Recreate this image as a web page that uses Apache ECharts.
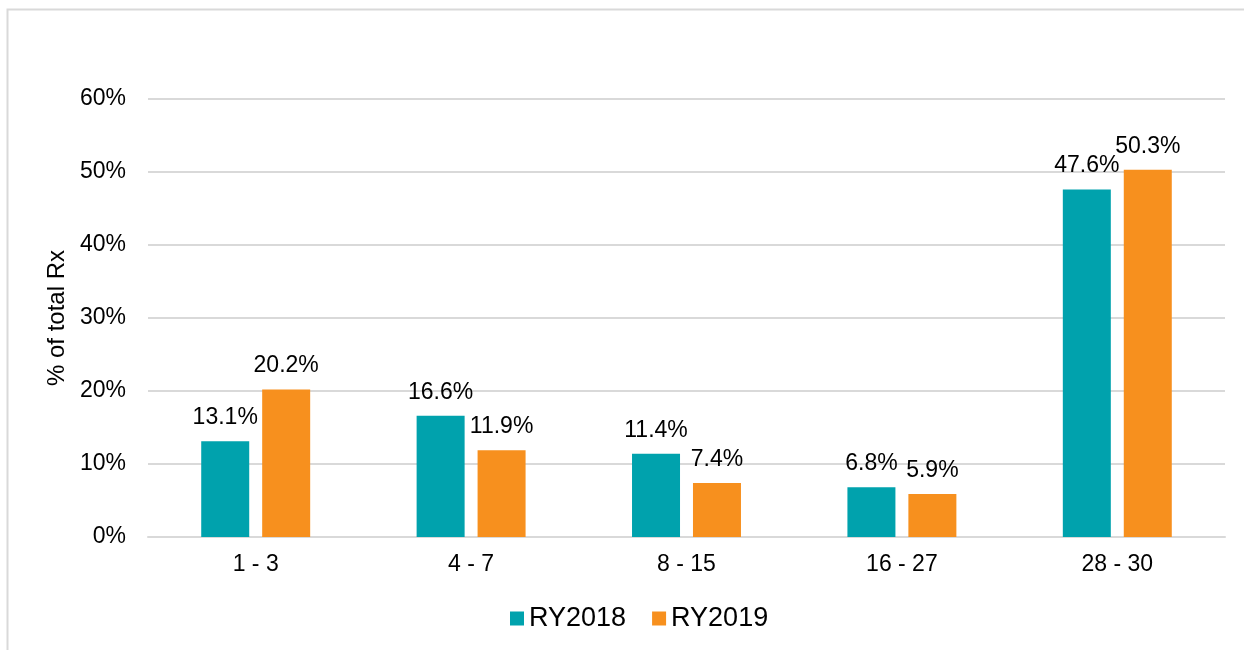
<!DOCTYPE html>
<html lang="en">
  <head>
    <meta charset="UTF-8" />
    <title>% of total Rx</title>
    <script src="https://cdn.jsdelivr.net/npm/echarts@6/dist/echarts.min.js"></script>
    <style>
      html, body { margin: 0; padding: 0; background: #fff; }
      #app { width: 1244px; height: 650px; }
    </style>
  </head>
  <body>
    <div id="app"></div>
    <script>
      const categories = ["1 - 3", "4 - 7", "8 - 15", "16 - 27", "28 - 30"];
      const ry2018 = [13.1, 16.6, 11.4, 6.8, 47.6];
      const ry2019 = [20.2, 11.9, 7.4, 5.9, 50.3];

      const font = "Liberation Sans, Arial, sans-serif";

      const chart = echarts.init(document.getElementById("app"));

      const labelStyle = {
        show: true,
        position: "top",
        distance: 12,
        fontFamily: font,
        fontSize: 23,
        color: "#000",
        formatter: (p) => p.value.toFixed(1) + "%",
      };

      chart.setOption({
        animation: false,
        textStyle: { fontFamily: font },
        graphic: [
          {
            type: "rect",
            shape: { x: 7.5, y: 9.5, width: 1260, height: 700 },
            style: { fill: "none", stroke: "#d9d9d9", lineWidth: 2 },
            silent: true,
          },
        ],
        grid: { left: 148, right: 19, top: 99, bottom: 113 },
        legend: {
          bottom: 13,
          left: 505,
          itemWidth: 14,
          itemHeight: 14,
          itemGap: 26,
          icon: "rect",
          textStyle: { fontFamily: font, fontSize: 27, color: "#000" },
          data: ["RY2018", "RY2019"],
        },
        xAxis: {
          type: "category",
          data: categories,
          axisLine: { lineStyle: { color: "#d9d9d9", width: 2 } },
          axisTick: { show: false },
          axisLabel: { fontFamily: font, fontSize: 23, color: "#000", margin: 16 },
        },
        yAxis: {
          type: "value",
          min: 0,
          max: 60,
          interval: 10,
          name: "% of total Rx",
          nameLocation: "middle",
          nameGap: 79,
          nameRotate: 90,
          nameTextStyle: { fontFamily: font, fontSize: 24, color: "#000" },
          axisLine: { show: false },
          axisTick: { show: false },
          axisLabel: {
            fontFamily: font,
            fontSize: 23,
            color: "#000",
            margin: 22,
            formatter: "{value}%",
          },
          splitLine: { lineStyle: { color: "#d9d9d9", width: 2 } },
        },
        series: [
          {
            name: "RY2018",
            type: "bar",
            data: ry2018,
            barWidth: 48,
            barGap: "27%",
            itemStyle: { color: "#00a2ad" },
            label: labelStyle,
          },
          {
            name: "RY2019",
            type: "bar",
            data: ry2019,
            barWidth: 48,
            itemStyle: { color: "#f7901e" },
            label: labelStyle,
          },
        ],
      });
    </script>
  </body>
</html>
